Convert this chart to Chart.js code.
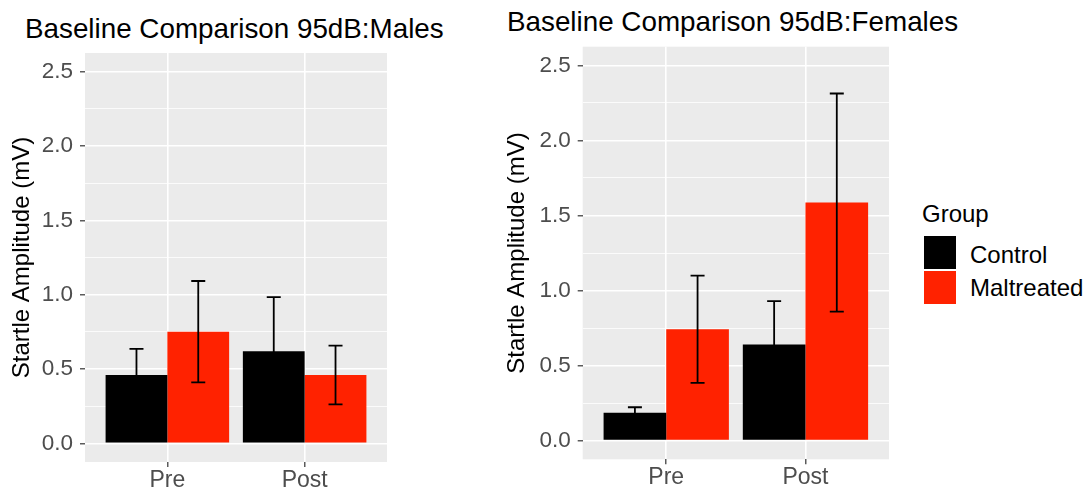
<!DOCTYPE html>
<html>
<head>
<meta charset="utf-8">
<title>Baseline Comparison 95dB</title>
<script src="https://cdn.jsdelivr.net/npm/chart.js@4.4.1/dist/chart.umd.min.js"></script>
<style>
  body {
    margin: 0;
    width: 1086px;
    height: 492px;
    overflow: hidden;
    position: relative;
    background: #fff;
    font-family: 'Liberation Sans', Arial, sans-serif;
  }
  canvas { position: absolute; top: 0; }
  .plot-title {
    position: absolute;
    font-size: 27.8px;
    line-height: 1;
    color: #000;
    white-space: nowrap;
  }
  #legend { position: absolute; left: 0; top: 0; }
  #legend div { position: absolute; white-space: nowrap; line-height: 1; }
</style>
</head>
<body>
<div class="plot-title" style="left:25px; top:15px;">Baseline Comparison 95dB:Males</div>
<div class="plot-title" style="left:507px; top:8px;">Baseline Comparison 95dB:Females</div>
<canvas id="malesChart" width="470" height="492" style="left:0px;"></canvas>
<canvas id="femalesChart" width="420" height="492" style="left:490px;"></canvas>
<div id="legend"></div>

<script>
const categories = ['Pre', 'Post'];
const groups = ['Control', 'Maltreated'];
const groupColors = ['#000000', '#FF2200'];

// means and error half-widths (mV)
const maleControl = [0.46, 0.62];
const maleControlErr = [0.175, 0.363];
const maleMaltreated = [0.751, 0.46];
const maleMaltreatedErr = [0.341, 0.198];

const femaleControl = [0.185, 0.64];
const femaleControlErr = [0.037, 0.289];
const femaleMaltreated = [0.742, 1.586];
const femaleMaltreatedErr = [0.357, 0.727];

const yMajorTicks = [0, 0.5, 1, 1.5, 2, 2.5];
const yMinorTicks = [0.25, 0.75, 1.25, 1.75, 2.25];

const FONT = "'Liberation Sans', Arial, sans-serif";

function isMajor(v) {
    return yMajorTicks.some(t => Math.abs(t - v) < 1e-6);
}

const panelBackground = {
    id: 'panelBackground',
    beforeDraw(chart) {
        const { ctx, chartArea: a } = chart;
        ctx.save();
        ctx.fillStyle = '#EBEBEB';
        ctx.fillRect(a.left, a.top, a.right - a.left, a.bottom - a.top);
        ctx.restore();
    }
};

const errorBars = {
    id: 'errorBars',
    afterDatasetsDraw(chart) {
        const ctx = chart.ctx;
        const yScale = chart.scales.y;
        ctx.save();
        ctx.strokeStyle = '#000000';
        ctx.lineWidth = 1.8;
        chart.data.datasets.forEach((ds, d) => {
            const meta = chart.getDatasetMeta(d);
            meta.data.forEach((bar, i) => {
                const mean = ds.data[i].y;
                const err = ds.errorBars[i];
                const top = yScale.getPixelForValue(mean + err);
                const bottom = yScale.getPixelForValue(mean - err);
                const x = bar.x;
                const half = 7;
                ctx.beginPath();
                ctx.moveTo(x, top);
                ctx.lineTo(x, bottom);
                ctx.moveTo(x - half, top);
                ctx.lineTo(x + half, top);
                ctx.moveTo(x - half, bottom);
                ctx.lineTo(x + half, bottom);
                ctx.stroke();
            });
        });
        ctx.restore();
    }
};

function toPoints(values) {
    return values.map((v, i) => ({ x: i + 1, y: v }));
}

function makeChart(id, controlVals, controlErr, maltVals, maltErr, box) {
    const ctx = document.getElementById(id).getContext('2d');
    return new Chart(ctx, {
        type: 'bar',
        data: {
            datasets: [{
                label: groups[0],
                data: toPoints(controlVals),
                errorBars: controlErr,
                backgroundColor: groupColors[0],
                borderWidth: 0
            }, {
                label: groups[1],
                data: toPoints(maltVals),
                errorBars: maltErr,
                backgroundColor: groupColors[1],
                borderWidth: 0
            }]
        },
        options: {
            responsive: false,
            animation: false,
            devicePixelRatio: 1,
            categoryPercentage: 0.9,
            barPercentage: 1.0,
            layout: {
                padding: { top: box.top, right: box.right, bottom: 0, left: 0 }
            },
            plugins: {
                legend: { display: false },
                tooltip: { enabled: false },
                title: { display: false }
            },
            scales: {
                x: {
                    type: 'linear',
                    min: 0.4,
                    max: 2.6,
                    offset: false,
                    border: { display: false },
                    grid: {
                        offset: false,
                        color: '#FFFFFF',
                        lineWidth: 1.6,
                        tickColor: '#333333',
                        tickWidth: 1.2,
                        tickLength: 5
                    },
                    ticks: {
                        autoSkip: false,
                        maxRotation: 0,
                        padding: 0,
                        color: '#4D4D4D',
                        font: { family: FONT, size: 23 },
                        callback: (v, i) => categories[i]
                    },
                    afterBuildTicks: scale => {
                        scale.ticks = categories.map((c, i) => ({ value: i + 1 }));
                    },
                    afterFit: scale => { scale.height = box.xAxisHeight; }
                },
                y: {
                    min: -0.125,
                    max: 2.625,
                    border: { display: false },
                    grid: {
                        color: '#FFFFFF',
                        lineWidth: c => isMajor(c.tick.value) ? 1.6 : 0.8,
                        tickColor: c => isMajor(c.tick.value) ? '#333333' : 'rgba(0,0,0,0)',
                        tickWidth: 1.2,
                        tickLength: 5
                    },
                    ticks: {
                        autoSkip: false,
                        padding: 7,
                        color: '#4D4D4D',
                        font: { family: FONT, size: 22.5 },
                        callback: v => isMajor(v) ? v.toFixed(1) : ''
                    },
                    afterBuildTicks: scale => {
                        scale.ticks = yMajorTicks.concat(yMinorTicks)
                            .sort((a, b) => a - b)
                            .map(v => ({ value: v }));
                    },
                    title: {
                        display: true,
                        text: 'Startle Amplitude (mV)',
                        color: '#000000',
                        font: { family: FONT, size: 24 },
                        padding: { top: box.yTitlePad, bottom: 0 }
                    },
                    afterFit: scale => { scale.width = box.yAxisWidth; }
                }
            }
        },
        plugins: [panelBackground, errorBars]
    });
}

function buildLegend() {
    const legend = document.getElementById('legend');
    const heading = document.createElement('div');
    heading.textContent = 'Group';
    heading.style.cssText = 'left:922px; top:202px; font-size:24px; color:#000;';
    legend.appendChild(heading);
    groups.forEach((g, i) => {
        const key = document.createElement('div');
        key.style.cssText = `left:924px; top:${236 + i * 35}px; width:32px; height:33px; background:${groupColors[i]};`;
        legend.appendChild(key);
        const label = document.createElement('div');
        label.textContent = g;
        label.style.cssText = `left:970px; top:${243 + i * 33}px; font-size:24px; color:#000;`;
        legend.appendChild(label);
    });
}

document.addEventListener('DOMContentLoaded', () => {
    makeChart('malesChart', maleControl, maleControlErr, maleMaltreated, maleMaltreatedErr,
        { top: 53, right: 83, yAxisWidth: 85, xAxisHeight: 30, yTitlePad: 7.6 });
    makeChart('femalesChart', femaleControl, femaleControlErr, femaleMaltreated, femaleMaltreatedErr,
        { top: 46.7, right: 21, yAxisWidth: 92.7, xAxisHeight: 32.7, yTitlePad: 13.1 });
    buildLegend();
});
</script>
</body>
</html>
